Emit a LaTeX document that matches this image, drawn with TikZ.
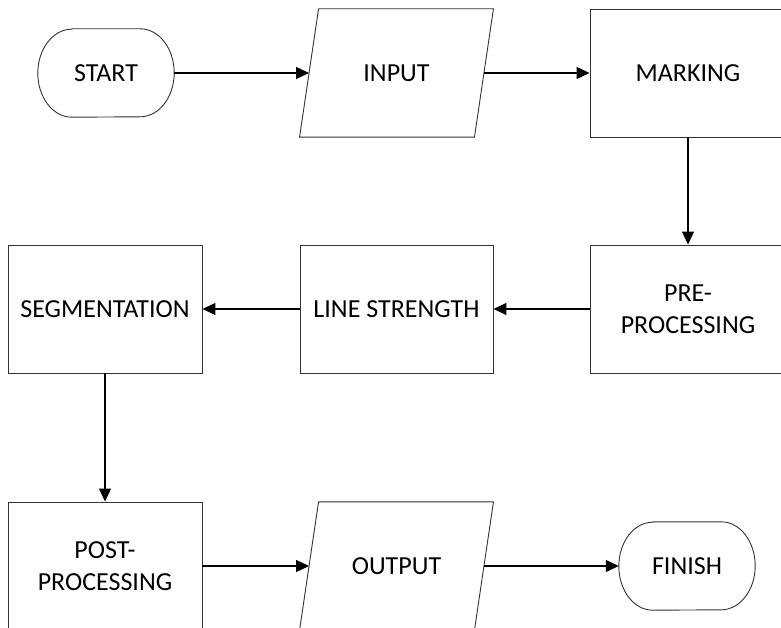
\documentclass[tikz,border=0pt]{standalone}
\usepackage{fontspec}
\setmainfont{Carlito}
\usetikzlibrary{arrows.meta}
\begin{document}
\begin{tikzpicture}[x=1pt,y=-1pt,
  every node/.style={font=\fontsize{26}{31.5}\selectfont, align=center, inner sep=0pt},
  box/.style={draw=black!80, line width=0.9pt, minimum height=128pt},
  io/.style={minimum width=174.5pt, minimum height=128pt},
  term/.style={minimum width=136pt, minimum height=88pt},
  edge/.style={draw=black!80, line width=0.9pt},
  flow/.style={line width=1.1pt, -{Triangle[length=13pt,width=12pt]}}]
\clip (0,0) rectangle (781,628);

% first row
\node[term] (start) at (106,73) {START};
\node[io] (in) at (396.5,73) {INPUT};
\node[box, minimum width=196pt] (mark) at (688,73) {MARKING};

% second row
\node[box, minimum width=196pt] (pre) at (688,309) {PRE-\\PROCESSING};
\node[box, minimum width=193pt] (line) at (396.5,309) {LINE STRENGTH};
\node[box, minimum width=194pt] (seg) at (105,309) {SEGMENTATION};

% third row
\node[box, minimum width=194pt] (post) at (105,566) {POST-\\PROCESSING};
\node[io] (out) at (396.5,566) {OUTPUT};
\node[term] (fin) at (687,566) {FINISH};

% data parallelograms
\foreach \n in {in,out}
  \draw[edge] ([xshift=9.5pt]\n.north west) -- ([xshift=9.5pt]\n.north east)
    -- ([xshift=-9.5pt]\n.south east) -- ([xshift=-9.5pt]\n.south west) -- cycle;

% terminators with elliptical ends
\foreach \n in {start,fin}
  \draw[edge] ([xshift=34pt]\n.north west) -- ([xshift=-34pt]\n.north east)
    arc[start angle=90, end angle=-90, x radius=34pt, y radius=44pt]
    -- ([xshift=34pt]\n.south west)
    arc[start angle=270, end angle=90, x radius=34pt, y radius=44pt] -- cycle;

% connectors
\draw[flow] (start) -- (in);
\draw[flow] (in) -- (mark);
\draw[flow] (mark) -- (pre);
\draw[flow] (pre) -- (line);
\draw[flow] (line) -- (seg);
\draw[flow] (seg) -- (post);
\draw[flow] (post) -- (out);
\draw[flow] (out) -- (fin);
\end{tikzpicture}
\end{document}
